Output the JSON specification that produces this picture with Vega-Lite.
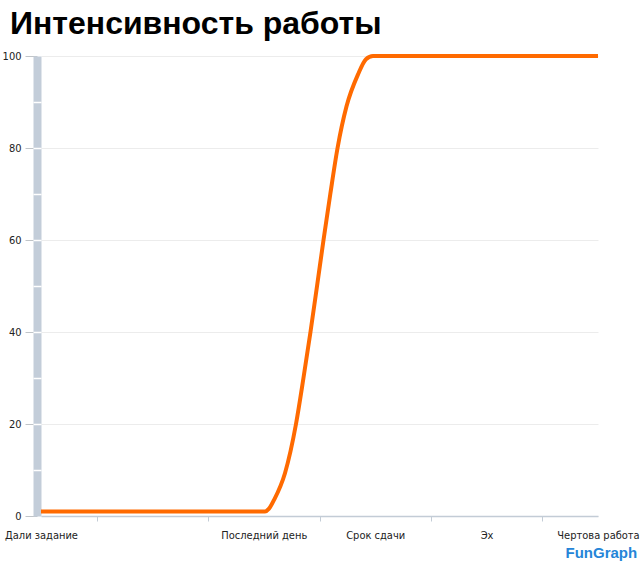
{
  "$schema": "https://vega.github.io/schema/vega-lite/v6.json",
  "width": 557,
  "height": 460,
  "autosize": {"type": "none"},
  "padding": {"left": 41, "top": 56, "right": 42, "bottom": 49},
  "background": "white",
  "title": {
    "text": "Интенсивность работы",
    "anchor": "start",
    "frame": "group",
    "dx": -31,
    "offset": 7,
    "font": "Liberation Sans",
    "fontSize": 32,
    "fontWeight": "bold",
    "color": "#000000"
  },
  "config": {"view": {"stroke": null}},
  "data": {
    "values": [
      {"t": 0, "v": 1},
      {"t": 1, "v": 1},
      {"t": 2.011, "v": 1},
      {"t": 2.047, "v": 1.6},
      {"t": 2.092, "v": 3.5},
      {"t": 2.19, "v": 9.3},
      {"t": 2.289, "v": 20},
      {"t": 2.356, "v": 30},
      {"t": 2.419, "v": 40},
      {"t": 2.478, "v": 50},
      {"t": 2.536, "v": 60},
      {"t": 2.597, "v": 70},
      {"t": 2.662, "v": 80},
      {"t": 2.742, "v": 89},
      {"t": 2.846, "v": 96},
      {"t": 2.917, "v": 99.3},
      {"t": 2.98, "v": 100},
      {"t": 4, "v": 100},
      {"t": 5, "v": 100}
    ]
  },
  "layer": [
    {
      "mark": {"type": "line", "color": "#ff6a00", "strokeWidth": 4, "interpolate": "monotone"},
      "encoding": {
        "x": {
          "field": "t",
          "type": "quantitative",
          "scale": {"domain": [0, 5], "nice": false, "zero": false},
          "axis": {
            "title": null,
            "values": [0, 0.5, 1, 1.5, 2, 2.5, 3, 3.5, 4, 4.5, 5],
            "labelExpr": "datum.value == 0 ? 'Дали задание' : datum.value == 2 ? 'Последний день' : datum.value == 3 ? 'Срок сдачи' : datum.value == 4 ? 'Эх' : datum.value == 5 ? 'Чертова работа' : ''",
            "labelFlush": false,
            "labelOverlap": false,
            "labelBound": false,
            "labelFont": "DejaVu Sans Condensed",
            "labelFontSize": 11,
            "labelColor": "#222222",
            "labelPadding": 8,
            "grid": false,
            "domainColor": "#c3ccd6",
            "domainWidth": 1.5,
            "tickColor": "#c3ccd6",
            "tickSize": 5,
            "tickOpacity": {"condition": {"test": "datum.value % 1 === 0", "value": 0}, "value": 1},
            "zindex": 0
          }
        },
        "y": {
          "field": "v",
          "type": "quantitative",
          "scale": {"domain": [0, 100], "nice": false},
          "axis": {
            "title": null,
            "values": [0, 20, 40, 60, 80, 100],
            "labelFont": "DejaVu Sans Condensed",
            "labelFontSize": 11,
            "labelColor": "#222222",
            "labelPadding": 4,
            "grid": true,
            "gridColor": "#ececec",
            "domainColor": "#c3cdd9",
            "domainWidth": 8,
            "offset": 4,
            "tickColor": "#c0c4c8",
            "tickSize": 12,
            "zindex": 0
          }
        }
      }
    },
    {
      "mark": {"type": "point", "opacity": 0},
      "encoding": {
        "x": {"field": "t", "type": "quantitative"},
        "y": {
          "field": "v",
          "type": "quantitative",
          "axis": {
            "orient": "left",
            "title": null,
            "values": [10, 20, 30, 40, 50, 60, 70, 80, 90],
            "labels": false,
            "domain": false,
            "grid": false,
            "tickColor": "#ffffff",
            "tickSize": 8,
            "tickWidth": 1.5,
            "offset": 0,
            "zindex": 2
          }
        }
      }
    },
    {
      "data": {"values": [{"label": "FunGraph"}]},
      "mark": {"type": "text", "fontSize": 15, "fontWeight": "bold", "font": "Liberation Sans", "color": "#2585d8", "clip": false},
      "encoding": {
        "text": {"field": "label"},
        "x": {"datum": 5.03, "type": "quantitative"},
        "y": {"datum": -8, "type": "quantitative", "axis": null}
      }
    }
  ],
  "resolve": {"axis": {"y": "independent"}}
}
